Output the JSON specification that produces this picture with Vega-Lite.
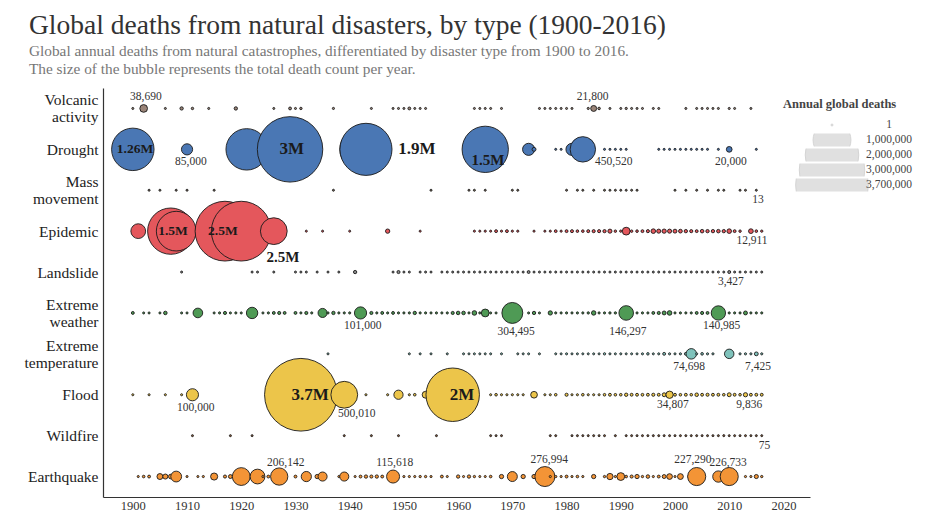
{
  "$schema": "https://vega.github.io/schema/vega-lite/v6.json",
  "autosize": {"type": "none"},
  "padding": {"left": 103, "top": 88, "right": 123, "bottom": 20},
  "width": 707,
  "height": 409,
  "background": "white",
  "config": {"view": {"stroke": null}, "font": "Liberation Serif"},
  "title": {
    "text": "Global deaths from natural disasters, by type (1900-2016)",
    "subtitle": ["Global annual deaths from natural catastrophes, differentiated by disaster type from 1900 to 2016.", "The size of the bubble represents the total death count per year."],
    "anchor": "start", "frame": "group", "dx": -74, "offset": 11,
    "font": "Liberation Serif", "fontSize": 27.5, "fontWeight": "normal", "color": "#333333",
    "subtitleFont": "Liberation Serif", "subtitleFontSize": 15.3, "subtitleColor": "#777777",
    "subtitleLineHeight": 17.5, "subtitlePadding": 5
  },
  "datasets": {
    "points": [
      {"type":"Volcanic activity","year":1900,"deaths":200},{"type":"Volcanic activity","year":1902,"deaths":38690},{"type":"Volcanic activity","year":1906,"deaths":100},{"type":"Volcanic activity","year":1909,"deaths":5000},{"type":"Volcanic activity","year":1911,"deaths":1335},{"type":"Volcanic activity","year":1914,"deaths":300},{"type":"Volcanic activity","year":1919,"deaths":5110},{"type":"Volcanic activity","year":1926,"deaths":100},{"type":"Volcanic activity","year":1929,"deaths":3000},{"type":"Volcanic activity","year":1930,"deaths":200},{"type":"Volcanic activity","year":1931,"deaths":1300},{"type":"Volcanic activity","year":1937,"deaths":500},{"type":"Volcanic activity","year":1944,"deaths":100},{"type":"Volcanic activity","year":1948,"deaths":100},{"type":"Volcanic activity","year":1949,"deaths":100},{"type":"Volcanic activity","year":1950,"deaths":100},{"type":"Volcanic activity","year":1951,"deaths":3000},{"type":"Volcanic activity","year":1952,"deaths":100},{"type":"Volcanic activity","year":1953,"deaths":100},{"type":"Volcanic activity","year":1954,"deaths":100},{"type":"Volcanic activity","year":1963,"deaths":100},{"type":"Volcanic activity","year":1964,"deaths":100},{"type":"Volcanic activity","year":1965,"deaths":100},{"type":"Volcanic activity","year":1966,"deaths":100},{"type":"Volcanic activity","year":1968,"deaths":100},{"type":"Volcanic activity","year":1975,"deaths":100},{"type":"Volcanic activity","year":1976,"deaths":100},{"type":"Volcanic activity","year":1977,"deaths":100},{"type":"Volcanic activity","year":1978,"deaths":100},{"type":"Volcanic activity","year":1979,"deaths":100},{"type":"Volcanic activity","year":1980,"deaths":100},{"type":"Volcanic activity","year":1981,"deaths":100},{"type":"Volcanic activity","year":1984,"deaths":500},{"type":"Volcanic activity","year":1985,"deaths":21800},{"type":"Volcanic activity","year":1986,"deaths":1746},{"type":"Volcanic activity","year":1988,"deaths":100},{"type":"Volcanic activity","year":1990,"deaths":100},{"type":"Volcanic activity","year":1991,"deaths":800},{"type":"Volcanic activity","year":1992,"deaths":100},{"type":"Volcanic activity","year":1993,"deaths":100},{"type":"Volcanic activity","year":1994,"deaths":100},{"type":"Volcanic activity","year":1996,"deaths":100},{"type":"Volcanic activity","year":1997,"deaths":100},{"type":"Volcanic activity","year":2002,"deaths":200},{"type":"Volcanic activity","year":2004,"deaths":100},{"type":"Volcanic activity","year":2005,"deaths":100},{"type":"Volcanic activity","year":2006,"deaths":100},{"type":"Volcanic activity","year":2007,"deaths":100},{"type":"Volcanic activity","year":2008,"deaths":100},{"type":"Volcanic activity","year":2010,"deaths":400},{"type":"Volcanic activity","year":2011,"deaths":100},{"type":"Volcanic activity","year":2014,"deaths":100},

      {"type":"Drought","year":1900,"deaths":1260000},{"type":"Drought","year":1910,"deaths":85000},{"type":"Drought","year":1920,"deaths":500000},{"type":"Drought","year":1921,"deaths":1200000},{"type":"Drought","year":1929,"deaths":3000000},{"type":"Drought","year":1940,"deaths":10000},{"type":"Drought","year":1942,"deaths":1200000},{"type":"Drought","year":1943,"deaths":1900000},{"type":"Drought","year":1964,"deaths":300},{"type":"Drought","year":1965,"deaths":1500000},{"type":"Drought","year":1973,"deaths":100000},{"type":"Drought","year":1974,"deaths":8000},{"type":"Drought","year":1978,"deaths":100},{"type":"Drought","year":1979,"deaths":100},{"type":"Drought","year":1981,"deaths":100000},{"type":"Drought","year":1983,"deaths":450520},{"type":"Drought","year":1987,"deaths":100},{"type":"Drought","year":1988,"deaths":100},{"type":"Drought","year":1989,"deaths":100},{"type":"Drought","year":1990,"deaths":100},{"type":"Drought","year":1991,"deaths":100},{"type":"Drought","year":1997,"deaths":100},{"type":"Drought","year":1998,"deaths":100},{"type":"Drought","year":1999,"deaths":100},{"type":"Drought","year":2000,"deaths":100},{"type":"Drought","year":2001,"deaths":100},{"type":"Drought","year":2002,"deaths":100},{"type":"Drought","year":2003,"deaths":100},{"type":"Drought","year":2004,"deaths":100},{"type":"Drought","year":2005,"deaths":100},{"type":"Drought","year":2006,"deaths":100},{"type":"Drought","year":2008,"deaths":100},{"type":"Drought","year":2010,"deaths":20000},{"type":"Drought","year":2015,"deaths":100},

      {"type":"Mass movement","year":1903,"deaths":100},{"type":"Mass movement","year":1905,"deaths":100},{"type":"Mass movement","year":1908,"deaths":100},{"type":"Mass movement","year":1910,"deaths":100},{"type":"Mass movement","year":1915,"deaths":100},{"type":"Mass movement","year":1937,"deaths":100},{"type":"Mass movement","year":1955,"deaths":100},{"type":"Mass movement","year":1962,"deaths":100},{"type":"Mass movement","year":1963,"deaths":100},{"type":"Mass movement","year":1965,"deaths":100},{"type":"Mass movement","year":1970,"deaths":100},{"type":"Mass movement","year":1971,"deaths":100},{"type":"Mass movement","year":1980,"deaths":100},{"type":"Mass movement","year":1982,"deaths":100},{"type":"Mass movement","year":1983,"deaths":100},{"type":"Mass movement","year":1985,"deaths":100},{"type":"Mass movement","year":1987,"deaths":100},{"type":"Mass movement","year":1988,"deaths":100},{"type":"Mass movement","year":1989,"deaths":100},{"type":"Mass movement","year":1990,"deaths":100},{"type":"Mass movement","year":1991,"deaths":100},{"type":"Mass movement","year":1992,"deaths":100},{"type":"Mass movement","year":1993,"deaths":100},{"type":"Mass movement","year":2000,"deaths":100},{"type":"Mass movement","year":2002,"deaths":100},{"type":"Mass movement","year":2004,"deaths":100},{"type":"Mass movement","year":2006,"deaths":100},{"type":"Mass movement","year":2008,"deaths":100},{"type":"Mass movement","year":2009,"deaths":100},{"type":"Mass movement","year":2012,"deaths":100},{"type":"Mass movement","year":2013,"deaths":100},{"type":"Mass movement","year":2015,"deaths":13},

      {"type":"Epidemic","year":1901,"deaths":150000},{"type":"Epidemic","year":1907,"deaths":1500000},{"type":"Epidemic","year":1908,"deaths":1100000},{"type":"Epidemic","year":1917,"deaths":2500000},{"type":"Epidemic","year":1920,"deaths":2500000},{"type":"Epidemic","year":1926,"deaths":500000},{"type":"Epidemic","year":1932,"deaths":100},{"type":"Epidemic","year":1935,"deaths":100},{"type":"Epidemic","year":1940,"deaths":100},{"type":"Epidemic","year":1947,"deaths":10276},{"type":"Epidemic","year":1953,"deaths":100},{"type":"Epidemic","year":1963,"deaths":300},{"type":"Epidemic","year":1964,"deaths":300},{"type":"Epidemic","year":1965,"deaths":500},{"type":"Epidemic","year":1966,"deaths":300},{"type":"Epidemic","year":1967,"deaths":3000},{"type":"Epidemic","year":1968,"deaths":500},{"type":"Epidemic","year":1969,"deaths":3000},{"type":"Epidemic","year":1970,"deaths":500},{"type":"Epidemic","year":1971,"deaths":500},{"type":"Epidemic","year":1974,"deaths":300},{"type":"Epidemic","year":1976,"deaths":300},{"type":"Epidemic","year":1977,"deaths":300},{"type":"Epidemic","year":1978,"deaths":2500},{"type":"Epidemic","year":1979,"deaths":500},{"type":"Epidemic","year":1980,"deaths":3000},{"type":"Epidemic","year":1981,"deaths":3500},{"type":"Epidemic","year":1982,"deaths":2000},{"type":"Epidemic","year":1983,"deaths":2000},{"type":"Epidemic","year":1984,"deaths":3500},{"type":"Epidemic","year":1985,"deaths":4000},{"type":"Epidemic","year":1986,"deaths":4000},{"type":"Epidemic","year":1987,"deaths":4500},{"type":"Epidemic","year":1988,"deaths":9000},{"type":"Epidemic","year":1989,"deaths":1500},{"type":"Epidemic","year":1990,"deaths":1000},{"type":"Epidemic","year":1991,"deaths":40000},{"type":"Epidemic","year":1992,"deaths":1500},{"type":"Epidemic","year":1993,"deaths":2000},{"type":"Epidemic","year":1994,"deaths":3000},{"type":"Epidemic","year":1995,"deaths":4000},{"type":"Epidemic","year":1996,"deaths":12000},{"type":"Epidemic","year":1997,"deaths":9000},{"type":"Epidemic","year":1998,"deaths":10000},{"type":"Epidemic","year":1999,"deaths":9000},{"type":"Epidemic","year":2000,"deaths":8000},{"type":"Epidemic","year":2001,"deaths":7000},{"type":"Epidemic","year":2002,"deaths":5000},{"type":"Epidemic","year":2003,"deaths":4000},{"type":"Epidemic","year":2004,"deaths":3000},{"type":"Epidemic","year":2005,"deaths":6000},{"type":"Epidemic","year":2006,"deaths":5000},{"type":"Epidemic","year":2007,"deaths":5000},{"type":"Epidemic","year":2008,"deaths":6000},{"type":"Epidemic","year":2009,"deaths":5000},{"type":"Epidemic","year":2010,"deaths":12000},{"type":"Epidemic","year":2011,"deaths":3000},{"type":"Epidemic","year":2012,"deaths":1500},{"type":"Epidemic","year":2014,"deaths":12911},{"type":"Epidemic","year":2015,"deaths":2000},{"type":"Epidemic","year":2016,"deaths":1000},

      {"type":"Landslide","year":1909,"deaths":100},{"type":"Landslide","year":1922,"deaths":100},{"type":"Landslide","year":1923,"deaths":100},{"type":"Landslide","year":1926,"deaths":100},{"type":"Landslide","year":1930,"deaths":100},{"type":"Landslide","year":1931,"deaths":100},{"type":"Landslide","year":1932,"deaths":100},{"type":"Landslide","year":1934,"deaths":100},{"type":"Landslide","year":1936,"deaths":100},{"type":"Landslide","year":1938,"deaths":100},{"type":"Landslide","year":1941,"deaths":5000},{"type":"Landslide","year":1948,"deaths":100},{"type":"Landslide","year":1949,"deaths":4000},{"type":"Landslide","year":1950,"deaths":100},{"type":"Landslide","year":1951,"deaths":100},{"type":"Landslide","year":1953,"deaths":100},{"type":"Landslide","year":1954,"deaths":100},{"type":"Landslide","year":1955,"deaths":100},{"type":"Landslide","year":1957,"deaths":100},{"type":"Landslide","year":1958,"deaths":100},{"type":"Landslide","year":1959,"deaths":100},{"type":"Landslide","year":1960,"deaths":100},{"type":"Landslide","year":1961,"deaths":100},{"type":"Landslide","year":1962,"deaths":100},{"type":"Landslide","year":1963,"deaths":100},{"type":"Landslide","year":1964,"deaths":100},{"type":"Landslide","year":1965,"deaths":100},{"type":"Landslide","year":1966,"deaths":100},{"type":"Landslide","year":1967,"deaths":100},{"type":"Landslide","year":1968,"deaths":100},{"type":"Landslide","year":1969,"deaths":100},{"type":"Landslide","year":1970,"deaths":100},{"type":"Landslide","year":1971,"deaths":100},{"type":"Landslide","year":1972,"deaths":100},{"type":"Landslide","year":1973,"deaths":3000},{"type":"Landslide","year":1974,"deaths":100},{"type":"Landslide","year":1975,"deaths":100},{"type":"Landslide","year":1976,"deaths":100},{"type":"Landslide","year":1977,"deaths":100},{"type":"Landslide","year":1978,"deaths":100},{"type":"Landslide","year":1979,"deaths":100},{"type":"Landslide","year":1980,"deaths":100},{"type":"Landslide","year":1981,"deaths":100},{"type":"Landslide","year":1982,"deaths":100},{"type":"Landslide","year":1983,"deaths":100},{"type":"Landslide","year":1984,"deaths":100},{"type":"Landslide","year":1985,"deaths":100},{"type":"Landslide","year":1986,"deaths":100},{"type":"Landslide","year":1987,"deaths":100},{"type":"Landslide","year":1988,"deaths":100},{"type":"Landslide","year":1989,"deaths":100},{"type":"Landslide","year":1990,"deaths":100},{"type":"Landslide","year":1991,"deaths":100},{"type":"Landslide","year":1992,"deaths":100},{"type":"Landslide","year":1993,"deaths":100},{"type":"Landslide","year":1994,"deaths":100},{"type":"Landslide","year":1995,"deaths":100},{"type":"Landslide","year":1996,"deaths":100},{"type":"Landslide","year":1997,"deaths":100},{"type":"Landslide","year":1998,"deaths":100},{"type":"Landslide","year":1999,"deaths":100},{"type":"Landslide","year":2000,"deaths":100},{"type":"Landslide","year":2001,"deaths":100},{"type":"Landslide","year":2002,"deaths":100},{"type":"Landslide","year":2003,"deaths":100},{"type":"Landslide","year":2004,"deaths":100},{"type":"Landslide","year":2005,"deaths":100},{"type":"Landslide","year":2006,"deaths":100},{"type":"Landslide","year":2007,"deaths":100},{"type":"Landslide","year":2008,"deaths":100},{"type":"Landslide","year":2009,"deaths":100},{"type":"Landslide","year":2010,"deaths":3427},{"type":"Landslide","year":2011,"deaths":100},{"type":"Landslide","year":2012,"deaths":100},{"type":"Landslide","year":2013,"deaths":100},{"type":"Landslide","year":2014,"deaths":100},{"type":"Landslide","year":2015,"deaths":100},{"type":"Landslide","year":2016,"deaths":100},

      {"type":"Extreme weather","year":1900,"deaths":3000},{"type":"Extreme weather","year":1902,"deaths":200},{"type":"Extreme weather","year":1903,"deaths":200},{"type":"Extreme weather","year":1905,"deaths":300},{"type":"Extreme weather","year":1906,"deaths":6000},{"type":"Extreme weather","year":1909,"deaths":300},{"type":"Extreme weather","year":1910,"deaths":300},{"type":"Extreme weather","year":1912,"deaths":62000},{"type":"Extreme weather","year":1915,"deaths":300},{"type":"Extreme weather","year":1916,"deaths":500},{"type":"Extreme weather","year":1917,"deaths":4000},{"type":"Extreme weather","year":1918,"deaths":300},{"type":"Extreme weather","year":1919,"deaths":500},{"type":"Extreme weather","year":1920,"deaths":300},{"type":"Extreme weather","year":1922,"deaths":88000},{"type":"Extreme weather","year":1924,"deaths":400},{"type":"Extreme weather","year":1925,"deaths":500},{"type":"Extreme weather","year":1926,"deaths":3000},{"type":"Extreme weather","year":1927,"deaths":4000},{"type":"Extreme weather","year":1928,"deaths":3000},{"type":"Extreme weather","year":1930,"deaths":3000},{"type":"Extreme weather","year":1931,"deaths":500},{"type":"Extreme weather","year":1932,"deaths":4000},{"type":"Extreme weather","year":1933,"deaths":500},{"type":"Extreme weather","year":1935,"deaths":55000},{"type":"Extreme weather","year":1936,"deaths":500},{"type":"Extreme weather","year":1937,"deaths":5000},{"type":"Extreme weather","year":1938,"deaths":500},{"type":"Extreme weather","year":1939,"deaths":500},{"type":"Extreme weather","year":1940,"deaths":500},{"type":"Extreme weather","year":1942,"deaths":101000},{"type":"Extreme weather","year":1944,"deaths":4000},{"type":"Extreme weather","year":1945,"deaths":500},{"type":"Extreme weather","year":1946,"deaths":3000},{"type":"Extreme weather","year":1947,"deaths":500},{"type":"Extreme weather","year":1948,"deaths":3000},{"type":"Extreme weather","year":1949,"deaths":500},{"type":"Extreme weather","year":1950,"deaths":500},{"type":"Extreme weather","year":1951,"deaths":500},{"type":"Extreme weather","year":1952,"deaths":5000},{"type":"Extreme weather","year":1953,"deaths":500},{"type":"Extreme weather","year":1954,"deaths":500},{"type":"Extreme weather","year":1955,"deaths":500},{"type":"Extreme weather","year":1956,"deaths":500},{"type":"Extreme weather","year":1957,"deaths":500},{"type":"Extreme weather","year":1958,"deaths":500},{"type":"Extreme weather","year":1959,"deaths":4000},{"type":"Extreme weather","year":1960,"deaths":6000},{"type":"Extreme weather","year":1961,"deaths":6000},{"type":"Extreme weather","year":1962,"deaths":500},{"type":"Extreme weather","year":1963,"deaths":12000},{"type":"Extreme weather","year":1964,"deaths":500},{"type":"Extreme weather","year":1965,"deaths":40000},{"type":"Extreme weather","year":1966,"deaths":300},{"type":"Extreme weather","year":1967,"deaths":300},{"type":"Extreme weather","year":1969,"deaths":1000},{"type":"Extreme weather","year":1970,"deaths":304495},{"type":"Extreme weather","year":1973,"deaths":300},{"type":"Extreme weather","year":1974,"deaths":5000},{"type":"Extreme weather","year":1975,"deaths":300},{"type":"Extreme weather","year":1977,"deaths":10000},{"type":"Extreme weather","year":1978,"deaths":500},{"type":"Extreme weather","year":1979,"deaths":500},{"type":"Extreme weather","year":1980,"deaths":500},{"type":"Extreme weather","year":1981,"deaths":500},{"type":"Extreme weather","year":1982,"deaths":500},{"type":"Extreme weather","year":1983,"deaths":500},{"type":"Extreme weather","year":1984,"deaths":1000},{"type":"Extreme weather","year":1985,"deaths":11000},{"type":"Extreme weather","year":1986,"deaths":500},{"type":"Extreme weather","year":1987,"deaths":500},{"type":"Extreme weather","year":1988,"deaths":1000},{"type":"Extreme weather","year":1989,"deaths":1000},{"type":"Extreme weather","year":1991,"deaths":146297},{"type":"Extreme weather","year":1993,"deaths":500},{"type":"Extreme weather","year":1994,"deaths":500},{"type":"Extreme weather","year":1995,"deaths":500},{"type":"Extreme weather","year":1996,"deaths":3000},{"type":"Extreme weather","year":1997,"deaths":4000},{"type":"Extreme weather","year":1998,"deaths":8000},{"type":"Extreme weather","year":1999,"deaths":12000},{"type":"Extreme weather","year":2000,"deaths":500},{"type":"Extreme weather","year":2001,"deaths":500},{"type":"Extreme weather","year":2002,"deaths":500},{"type":"Extreme weather","year":2003,"deaths":500},{"type":"Extreme weather","year":2004,"deaths":3000},{"type":"Extreme weather","year":2005,"deaths":4000},{"type":"Extreme weather","year":2006,"deaths":3000},{"type":"Extreme weather","year":2008,"deaths":140985},{"type":"Extreme weather","year":2010,"deaths":500},{"type":"Extreme weather","year":2011,"deaths":500},{"type":"Extreme weather","year":2012,"deaths":500},{"type":"Extreme weather","year":2013,"deaths":8000},{"type":"Extreme weather","year":2014,"deaths":500},{"type":"Extreme weather","year":2015,"deaths":500},{"type":"Extreme weather","year":2016,"deaths":500},

      {"type":"Extreme temperature","year":1936,"deaths":100},{"type":"Extreme temperature","year":1951,"deaths":100},{"type":"Extreme temperature","year":1953,"deaths":100},{"type":"Extreme temperature","year":1955,"deaths":100},{"type":"Extreme temperature","year":1958,"deaths":100},{"type":"Extreme temperature","year":1961,"deaths":100},{"type":"Extreme temperature","year":1962,"deaths":100},{"type":"Extreme temperature","year":1963,"deaths":100},{"type":"Extreme temperature","year":1964,"deaths":100},{"type":"Extreme temperature","year":1965,"deaths":100},{"type":"Extreme temperature","year":1966,"deaths":100},{"type":"Extreme temperature","year":1968,"deaths":100},{"type":"Extreme temperature","year":1971,"deaths":100},{"type":"Extreme temperature","year":1972,"deaths":100},{"type":"Extreme temperature","year":1973,"deaths":100},{"type":"Extreme temperature","year":1975,"deaths":100},{"type":"Extreme temperature","year":1978,"deaths":100},{"type":"Extreme temperature","year":1979,"deaths":100},{"type":"Extreme temperature","year":1980,"deaths":300},{"type":"Extreme temperature","year":1981,"deaths":100},{"type":"Extreme temperature","year":1982,"deaths":100},{"type":"Extreme temperature","year":1983,"deaths":100},{"type":"Extreme temperature","year":1984,"deaths":100},{"type":"Extreme temperature","year":1985,"deaths":100},{"type":"Extreme temperature","year":1986,"deaths":100},{"type":"Extreme temperature","year":1987,"deaths":1000},{"type":"Extreme temperature","year":1988,"deaths":300},{"type":"Extreme temperature","year":1989,"deaths":100},{"type":"Extreme temperature","year":1990,"deaths":300},{"type":"Extreme temperature","year":1991,"deaths":100},{"type":"Extreme temperature","year":1992,"deaths":100},{"type":"Extreme temperature","year":1993,"deaths":100},{"type":"Extreme temperature","year":1994,"deaths":300},{"type":"Extreme temperature","year":1995,"deaths":1500},{"type":"Extreme temperature","year":1996,"deaths":100},{"type":"Extreme temperature","year":1997,"deaths":300},{"type":"Extreme temperature","year":1998,"deaths":3000},{"type":"Extreme temperature","year":1999,"deaths":500},{"type":"Extreme temperature","year":2000,"deaths":300},{"type":"Extreme temperature","year":2001,"deaths":500},{"type":"Extreme temperature","year":2002,"deaths":3000},{"type":"Extreme temperature","year":2003,"deaths":74698},{"type":"Extreme temperature","year":2004,"deaths":300},{"type":"Extreme temperature","year":2005,"deaths":2000},{"type":"Extreme temperature","year":2006,"deaths":500},{"type":"Extreme temperature","year":2007,"deaths":500},{"type":"Extreme temperature","year":2010,"deaths":60000},{"type":"Extreme temperature","year":2012,"deaths":500},{"type":"Extreme temperature","year":2013,"deaths":500},{"type":"Extreme temperature","year":2014,"deaths":500},{"type":"Extreme temperature","year":2015,"deaths":7425},{"type":"Extreme temperature","year":2016,"deaths":500},

      {"type":"Flood","year":1900,"deaths":200},{"type":"Flood","year":1903,"deaths":200},{"type":"Flood","year":1906,"deaths":200},{"type":"Flood","year":1909,"deaths":200},{"type":"Flood","year":1911,"deaths":100000},{"type":"Flood","year":1926,"deaths":300},{"type":"Flood","year":1927,"deaths":2000},{"type":"Flood","year":1928,"deaths":300},{"type":"Flood","year":1931,"deaths":3700000},{"type":"Flood","year":1939,"deaths":500010},{"type":"Flood","year":1943,"deaths":300},{"type":"Flood","year":1947,"deaths":300},{"type":"Flood","year":1949,"deaths":57000},{"type":"Flood","year":1951,"deaths":300},{"type":"Flood","year":1952,"deaths":2000},{"type":"Flood","year":1954,"deaths":30000},{"type":"Flood","year":1955,"deaths":300},{"type":"Flood","year":1956,"deaths":300},{"type":"Flood","year":1957,"deaths":300},{"type":"Flood","year":1959,"deaths":2000000},{"type":"Flood","year":1966,"deaths":300},{"type":"Flood","year":1967,"deaths":2000},{"type":"Flood","year":1968,"deaths":300},{"type":"Flood","year":1969,"deaths":300},{"type":"Flood","year":1970,"deaths":300},{"type":"Flood","year":1971,"deaths":300},{"type":"Flood","year":1972,"deaths":300},{"type":"Flood","year":1974,"deaths":28700},{"type":"Flood","year":1976,"deaths":300},{"type":"Flood","year":1977,"deaths":300},{"type":"Flood","year":1978,"deaths":2000},{"type":"Flood","year":1980,"deaths":4000},{"type":"Flood","year":1981,"deaths":300},{"type":"Flood","year":1982,"deaths":300},{"type":"Flood","year":1983,"deaths":2000},{"type":"Flood","year":1984,"deaths":300},{"type":"Flood","year":1985,"deaths":300},{"type":"Flood","year":1986,"deaths":300},{"type":"Flood","year":1987,"deaths":2000},{"type":"Flood","year":1988,"deaths":3000},{"type":"Flood","year":1989,"deaths":2000},{"type":"Flood","year":1990,"deaths":2000},{"type":"Flood","year":1991,"deaths":5000},{"type":"Flood","year":1992,"deaths":3000},{"type":"Flood","year":1993,"deaths":3000},{"type":"Flood","year":1994,"deaths":2500},{"type":"Flood","year":1995,"deaths":3000},{"type":"Flood","year":1996,"deaths":4000},{"type":"Flood","year":1997,"deaths":3000},{"type":"Flood","year":1998,"deaths":8000},{"type":"Flood","year":1999,"deaths":34807},{"type":"Flood","year":2000,"deaths":3000},{"type":"Flood","year":2001,"deaths":2000},{"type":"Flood","year":2002,"deaths":3000},{"type":"Flood","year":2003,"deaths":2000},{"type":"Flood","year":2004,"deaths":6000},{"type":"Flood","year":2005,"deaths":3000},{"type":"Flood","year":2006,"deaths":4000},{"type":"Flood","year":2007,"deaths":3000},{"type":"Flood","year":2008,"deaths":3000},{"type":"Flood","year":2009,"deaths":2000},{"type":"Flood","year":2010,"deaths":8000},{"type":"Flood","year":2011,"deaths":3000},{"type":"Flood","year":2012,"deaths":2000},{"type":"Flood","year":2013,"deaths":9836},{"type":"Flood","year":2014,"deaths":3000},{"type":"Flood","year":2015,"deaths":3000},{"type":"Flood","year":2016,"deaths":3000},

      {"type":"Wildfire","year":1911,"deaths":80},{"type":"Wildfire","year":1918,"deaths":80},{"type":"Wildfire","year":1922,"deaths":80},{"type":"Wildfire","year":1939,"deaths":80},{"type":"Wildfire","year":1944,"deaths":80},{"type":"Wildfire","year":1949,"deaths":80},{"type":"Wildfire","year":1956,"deaths":80},{"type":"Wildfire","year":1966,"deaths":80},{"type":"Wildfire","year":1967,"deaths":80},{"type":"Wildfire","year":1968,"deaths":80},{"type":"Wildfire","year":1977,"deaths":80},{"type":"Wildfire","year":1978,"deaths":80},{"type":"Wildfire","year":1981,"deaths":80},{"type":"Wildfire","year":1982,"deaths":80},{"type":"Wildfire","year":1983,"deaths":80},{"type":"Wildfire","year":1984,"deaths":80},{"type":"Wildfire","year":1985,"deaths":80},{"type":"Wildfire","year":1986,"deaths":80},{"type":"Wildfire","year":1987,"deaths":80},{"type":"Wildfire","year":1989,"deaths":80},{"type":"Wildfire","year":1991,"deaths":80},{"type":"Wildfire","year":1992,"deaths":80},{"type":"Wildfire","year":1993,"deaths":80},{"type":"Wildfire","year":1994,"deaths":80},{"type":"Wildfire","year":1995,"deaths":80},{"type":"Wildfire","year":1996,"deaths":80},{"type":"Wildfire","year":1997,"deaths":80},{"type":"Wildfire","year":1998,"deaths":80},{"type":"Wildfire","year":1999,"deaths":80},{"type":"Wildfire","year":2000,"deaths":80},{"type":"Wildfire","year":2001,"deaths":80},{"type":"Wildfire","year":2002,"deaths":80},{"type":"Wildfire","year":2003,"deaths":80},{"type":"Wildfire","year":2004,"deaths":80},{"type":"Wildfire","year":2005,"deaths":80},{"type":"Wildfire","year":2006,"deaths":80},{"type":"Wildfire","year":2007,"deaths":80},{"type":"Wildfire","year":2008,"deaths":80},{"type":"Wildfire","year":2009,"deaths":200},{"type":"Wildfire","year":2010,"deaths":80},{"type":"Wildfire","year":2011,"deaths":80},{"type":"Wildfire","year":2012,"deaths":80},{"type":"Wildfire","year":2013,"deaths":80},{"type":"Wildfire","year":2014,"deaths":80},{"type":"Wildfire","year":2015,"deaths":80},{"type":"Wildfire","year":2016,"deaths":75},

      {"type":"Earthquake","year":1901,"deaths":300},{"type":"Earthquake","year":1902,"deaths":2000},{"type":"Earthquake","year":1903,"deaths":3000},{"type":"Earthquake","year":1905,"deaths":22000},{"type":"Earthquake","year":1906,"deaths":15000},{"type":"Earthquake","year":1907,"deaths":12000},{"type":"Earthquake","year":1908,"deaths":79000},{"type":"Earthquake","year":1910,"deaths":300},{"type":"Earthquake","year":1912,"deaths":300},{"type":"Earthquake","year":1913,"deaths":500},{"type":"Earthquake","year":1915,"deaths":32610},{"type":"Earthquake","year":1917,"deaths":4000},{"type":"Earthquake","year":1918,"deaths":8000},{"type":"Earthquake","year":1920,"deaths":220000},{"type":"Earthquake","year":1923,"deaths":150000},{"type":"Earthquake","year":1924,"deaths":300},{"type":"Earthquake","year":1925,"deaths":3000},{"type":"Earthquake","year":1927,"deaths":206142},{"type":"Earthquake","year":1930,"deaths":3000},{"type":"Earthquake","year":1932,"deaths":70000},{"type":"Earthquake","year":1934,"deaths":10000},{"type":"Earthquake","year":1935,"deaths":55000},{"type":"Earthquake","year":1938,"deaths":300},{"type":"Earthquake","year":1939,"deaths":55000},{"type":"Earthquake","year":1941,"deaths":300},{"type":"Earthquake","year":1942,"deaths":3000},{"type":"Earthquake","year":1943,"deaths":5000},{"type":"Earthquake","year":1944,"deaths":4000},{"type":"Earthquake","year":1945,"deaths":5000},{"type":"Earthquake","year":1946,"deaths":3000},{"type":"Earthquake","year":1948,"deaths":115618},{"type":"Earthquake","year":1950,"deaths":500},{"type":"Earthquake","year":1951,"deaths":500},{"type":"Earthquake","year":1952,"deaths":500},{"type":"Earthquake","year":1953,"deaths":1000},{"type":"Earthquake","year":1954,"deaths":1000},{"type":"Earthquake","year":1955,"deaths":500},{"type":"Earthquake","year":1957,"deaths":3000},{"type":"Earthquake","year":1958,"deaths":300},{"type":"Earthquake","year":1960,"deaths":5000},{"type":"Earthquake","year":1961,"deaths":300},{"type":"Earthquake","year":1962,"deaths":5000},{"type":"Earthquake","year":1963,"deaths":1000},{"type":"Earthquake","year":1964,"deaths":300},{"type":"Earthquake","year":1965,"deaths":300},{"type":"Earthquake","year":1966,"deaths":2000},{"type":"Earthquake","year":1968,"deaths":10000},{"type":"Earthquake","year":1970,"deaths":66794},{"type":"Earthquake","year":1972,"deaths":10000},{"type":"Earthquake","year":1974,"deaths":10000},{"type":"Earthquake","year":1975,"deaths":3000},{"type":"Earthquake","year":1976,"deaths":276994},{"type":"Earthquake","year":1977,"deaths":500},{"type":"Earthquake","year":1978,"deaths":1000},{"type":"Earthquake","year":1979,"deaths":500},{"type":"Earthquake","year":1980,"deaths":3000},{"type":"Earthquake","year":1981,"deaths":500},{"type":"Earthquake","year":1982,"deaths":2000},{"type":"Earthquake","year":1983,"deaths":500},{"type":"Earthquake","year":1985,"deaths":10000},{"type":"Earthquake","year":1987,"deaths":1000},{"type":"Earthquake","year":1988,"deaths":25000},{"type":"Earthquake","year":1989,"deaths":500},{"type":"Earthquake","year":1990,"deaths":40000},{"type":"Earthquake","year":1991,"deaths":2000},{"type":"Earthquake","year":1992,"deaths":4000},{"type":"Earthquake","year":1993,"deaths":10000},{"type":"Earthquake","year":1994,"deaths":1000},{"type":"Earthquake","year":1995,"deaths":6000},{"type":"Earthquake","year":1996,"deaths":500},{"type":"Earthquake","year":1997,"deaths":3000},{"type":"Earthquake","year":1998,"deaths":8000},{"type":"Earthquake","year":1999,"deaths":20000},{"type":"Earthquake","year":2000,"deaths":300},{"type":"Earthquake","year":2001,"deaths":21000},{"type":"Earthquake","year":2003,"deaths":30000},{"type":"Earthquake","year":2004,"deaths":227290},{"type":"Earthquake","year":2008,"deaths":87000},{"type":"Earthquake","year":2010,"deaths":226733},{"type":"Earthquake","year":2013,"deaths":500},{"type":"Earthquake","year":2014,"deaths":500},{"type":"Earthquake","year":2015,"deaths":9000},{"type":"Earthquake","year":2016,"deaths":1000}
    ],
    "above11": [
      {"type":"Volcanic activity","year":1902.4,"label":"38,690"},
      {"type":"Volcanic activity","year":1984.8,"label":"21,800"}
    ],
    "above14": [
      {"type":"Earthquake","year":1928.2,"label":"206,142"},
      {"type":"Earthquake","year":1948.3,"label":"115,618"},
      {"type":"Earthquake","year":2009.8,"label":"226,733"}
    ],
    "above17": [
      {"type":"Earthquake","year":1976.8,"label":"276,994"},
      {"type":"Earthquake","year":2003.3,"label":"227,290"}
    ],
    "below10": [
      {"type":"Mass movement","year":2015.3,"label":"13"},
      {"type":"Epidemic","year":2014.2,"label":"12,911"},
      {"type":"Landslide","year":2010.3,"label":"3,427"},
      {"type":"Flood","year":2013.7,"label":"9,836"},
      {"type":"Flood","year":1999.6,"label":"34,807"},
      {"type":"Wildfire","year":2016.5,"label":"75"}
    ],
    "below13": [
      {"type":"Drought","year":1910.7,"label":"85,000"},
      {"type":"Drought","year":1988.7,"label":"450,520"},
      {"type":"Drought","year":2010.3,"label":"20,000"},
      {"type":"Extreme temperature","year":2002.6,"label":"74,698"},
      {"type":"Extreme temperature","year":2015.3,"label":"7,425"},
      {"type":"Flood","year":1911.6,"label":"100,000"},
      {"type":"Extreme weather","year":1942.4,"label":"101,000"},
      {"type":"Extreme weather","year":2008.6,"label":"140,985"}
    ],
    "below19": [
      {"type":"Extreme weather","year":1970.7,"label":"304,495"},
      {"type":"Extreme weather","year":1991.3,"label":"146,297"},
      {"type":"Flood","year":1941.3,"label":"500,010"}
    ],
    "bold16": [
      {"type":"Drought","year":1929.3,"label":"3M"},
      {"type":"Drought","year":1952.4,"label":"1.9M"},
      {"type":"Flood","year":1932.7,"label":"3.7M"},
      {"type":"Flood","year":1960.7,"label":"2M"}
    ],
    "bold13": [
      {"type":"Drought","year":1900.4,"label":"1.26M"},
      {"type":"Epidemic","year":1907.4,"label":"1.5M"},
      {"type":"Epidemic","year":1916.6,"label":"2.5M"}
    ],
    "bold14a": [
      {"type":"Drought","year":1965.5,"label":"1.5M"}
    ],
    "bold14b": [
      {"type":"Epidemic","year":1927.7,"label":"2.5M"}
    ]
  },
  "encoding": {
    "x": {"field": "year", "type": "quantitative",
      "scale": {"domain": [1894.5, 2024.9], "nice": false, "zero": false},
      "axis": {"title": null, "values": [1900,1910,1920,1930,1940,1950,1960,1970,1980,1990,2000,2010,2020], "format": "d",
        "ticks": false, "grid": false, "domainColor": "#333333", "domainWidth": 1.2,
        "labelFont": "Liberation Serif", "labelFontSize": 12.5, "labelColor": "#333333", "labelPadding": 2, "labelDx": 6, "labelFlush": false}},
    "y": {"field": "type", "type": "nominal",
      "scale": {"type": "point", "padding": 0.5, "domain": ["Volcanic activity","Drought","Mass movement","Epidemic","Landslide","Extreme weather","Extreme temperature","Flood","Wildfire","Earthquake"]},
      "axis": {"title": null, "ticks": false, "grid": false, "domainColor": "#333333", "domainWidth": 1.2,
        "labelFont": "Liberation Serif", "labelFontSize": 15.5, "labelColor": "#222222", "labelPadding": 5,
        "labelExpr": "split(datum.label, ' ')", "labelLineHeight": 17,
        "labelOffset": {"condition": {"test": "indexof(datum.value, ' ') >= 0", "value": -8.5}, "value": 0}}}
  },
  "layer": [
    {
      "data": {"name": "points"},
      "mark": {"type": "circle", "opacity": 1, "stroke": "#1a1a1a", "strokeWidth": 0.9},
      "encoding": {
        "size": {"field": "deaths", "type": "quantitative",
          "scale": {"type": "linear", "domain": [0, 3700000], "range": [4, 5281], "zero": true},
          "legend": {"orient": "none", "legendX": 680, "legendY": 10,
            "title": "Annual global deaths", "titleFont": "Liberation Serif", "titleFontSize": 12.5, "titleFontWeight": "bold", "titleColor": "#444444", "titlePadding": 8,
            "values": [1, 1000000, 2000000, 3000000, 3700000],
            "labelExpr": "format(datum.value, ',')",
            "labelFont": "Liberation Serif", "labelFontSize": 11.5, "labelColor": "#444444", "labelOffset": 20, "labelAlign": "center",
            "clipHeight": 13, "symbolType": "circle", "symbolOffset": 12,
            "symbolFillColor": "#dddddd", "symbolStrokeColor": "#d0d0d0", "symbolOpacity": 0.9,
            "encode": {"symbols": {"update": {"fill": {"value": "#dddddd"}, "stroke": {"value": "#d0d0d0"}, "strokeWidth": {"value": 1}, "opacity": {"value": 0.9}}}}}},
        "color": {"field": "type", "type": "nominal", "legend": null,
          "scale": {"domain": ["Volcanic activity","Drought","Mass movement","Epidemic","Landslide","Extreme weather","Extreme temperature","Flood","Wildfire","Earthquake"],
            "range": ["#9a8478","#4a77b4","#7a6a5a","#e4575c","#8a8a8a","#4f9a55","#7fc2bb","#ecc54a","#8a5a3a","#f39436"]}},
        "order": [{"field": "deaths", "type": "quantitative", "sort": "descending"}, {"field": "year", "type": "quantitative", "sort": "descending"}]
      }
    },
    {"data": {"name": "above11"}, "mark": {"type": "text", "dy": -11, "font": "Liberation Serif", "fontSize": 11.5, "color": "#333333"}, "encoding": {"text": {"field": "label"}}},
    {"data": {"name": "above14"}, "mark": {"type": "text", "dy": -14, "font": "Liberation Serif", "fontSize": 11.5, "color": "#333333"}, "encoding": {"text": {"field": "label"}}},
    {"data": {"name": "above17"}, "mark": {"type": "text", "dy": -17, "font": "Liberation Serif", "fontSize": 11.5, "color": "#333333"}, "encoding": {"text": {"field": "label"}}},
    {"data": {"name": "below10"}, "mark": {"type": "text", "dy": 10, "font": "Liberation Serif", "fontSize": 11.5, "color": "#333333"}, "encoding": {"text": {"field": "label"}}},
    {"data": {"name": "below13"}, "mark": {"type": "text", "dy": 13, "font": "Liberation Serif", "fontSize": 11.5, "color": "#333333"}, "encoding": {"text": {"field": "label"}}},
    {"data": {"name": "below19"}, "mark": {"type": "text", "dy": 19, "font": "Liberation Serif", "fontSize": 11.5, "color": "#333333"}, "encoding": {"text": {"field": "label"}}},
    {"data": {"name": "bold16"}, "mark": {"type": "text", "dy": 0, "font": "Liberation Serif", "fontSize": 17, "fontWeight": "bold", "color": "#1a1a1a"}, "encoding": {"text": {"field": "label"}}},
    {"data": {"name": "bold13"}, "mark": {"type": "text", "dy": 0, "font": "Liberation Serif", "fontSize": 13.5, "fontWeight": "bold", "color": "#1a1a1a"}, "encoding": {"text": {"field": "label"}}},
    {"data": {"name": "bold14a"}, "mark": {"type": "text", "dy": 11, "font": "Liberation Serif", "fontSize": 15, "fontWeight": "bold", "color": "#1a1a1a"}, "encoding": {"text": {"field": "label"}}},
    {"data": {"name": "bold14b"}, "mark": {"type": "text", "dy": 26, "font": "Liberation Serif", "fontSize": 15, "fontWeight": "bold", "color": "#1a1a1a"}, "encoding": {"text": {"field": "label"}}}
  ]
}
